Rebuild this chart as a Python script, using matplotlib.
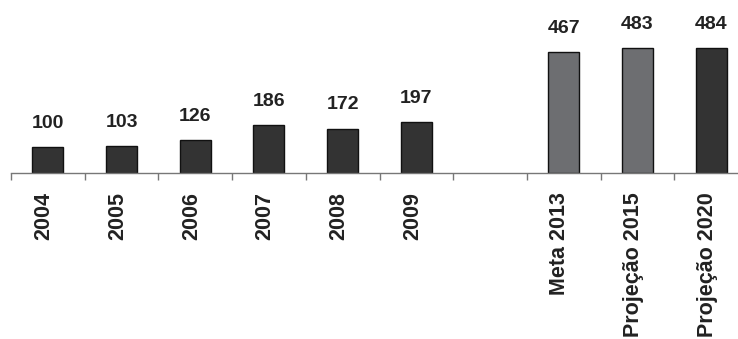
import matplotlib.pyplot as plt
import matplotlib.transforms as mtransforms
import numpy as np

# dados
categorias = ['2004', '2005', '2006', '2007', '2008', '2009', '',
              'Meta 2013', 'Projeção 2015', 'Projeção 2020']
valores = [100, 103, 126, 186, 172, 197, None, 467, 483, 484]
cores = ['#333333'] * 7 + ['#6d6e71', '#6d6e71', '#333333']

plt.rcParams['font.family'] = ['Liberation Sans', 'DejaVu Sans']

fig = plt.figure(figsize=(7.38, 3.39), dpi=100)
W, H = 738, 339
# eixo: de x=11 px a ~748 px, base em y=173 px
ax = fig.add_axes([11 / W, (H - 173) / H, 737 / W, 173 / H])

n = len(categorias)
x = np.arange(n)
for xi, v, c in zip(x, valores, cores):
    if v is None:
        continue
    ax.bar(xi, v, width=0.42, color=c, edgecolor='#111111', linewidth=1.0)
    ax.annotate(str(v), (xi, v), xytext=(0, 14), textcoords='offset points',
                ha='center', va='baseline', fontsize=14, fontweight='bold',
                color='#222222')

ax.set_xlim(-0.5, n - 0.5)
ax.set_ylim(0, 670)

ax.set_xticks(np.arange(-0.5, n, 1.0))
ax.set_xticklabels([])
ax.set_xticks(x, minor=True)
ax.set_xticklabels(categorias, minor=True, rotation=90, fontsize=15.5,
                   fontweight='bold', color='#222222', va='top')
ax.tick_params(axis='x', which='major', direction='out', length=5,
               color='#777777', width=1)
ax.tick_params(axis='x', which='minor', length=0, pad=14)
ax.set_yticks([])

# rótulos um pouco à esquerda do centro, como no original
desloc = mtransforms.ScaledTranslation(-4 / 100, 0, fig.dpi_scale_trans)
for lbl in ax.get_xticklabels(minor=True):
    lbl.set_transform(lbl.get_transform() + desloc)

for s in ['top', 'right', 'left']:
    ax.spines[s].set_visible(False)
ax.spines['bottom'].set_color('#777777')
ax.spines['bottom'].set_linewidth(1)

fig.savefig('out.png', dpi=100)
